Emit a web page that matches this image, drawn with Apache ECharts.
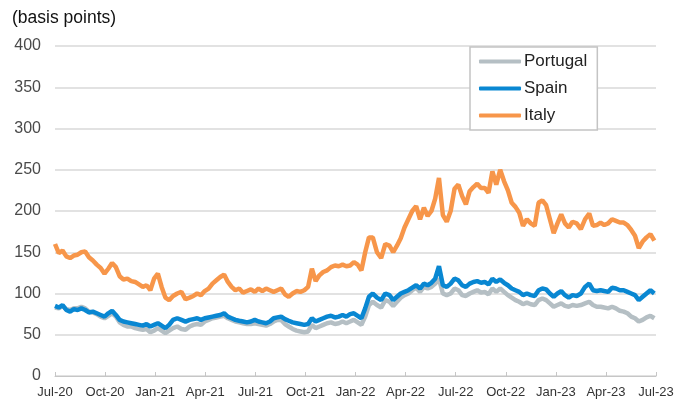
<!DOCTYPE html>
<html>
<head>
<meta charset="utf-8">
<script src="https://cdn.jsdelivr.net/npm/echarts@6/dist/echarts.min.js"></script>
<style>
  html, body { margin: 0; padding: 0; background: #fff; }
  #chart { width: 684px; height: 403px; }
</style>
</head>
<body>
<div id="chart"></div>
<script>
// weekly readings, starting on 1 Jul 2020
const firstWeek = '2020-07-01';
const seriesNames = ['Portugal', 'Spain', 'Italy'];
const monthNames = ['Jan', 'Feb', 'Mar', 'Apr', 'May', 'Jun', 'Jul', 'Aug', 'Sep', 'Oct', 'Nov', 'Dec'];

const italy = [
  160,149,152,145,143,146,147,150,151,144,
  140,135,131,124,130,137,132,121,117,118,
  115,114,111,108,110,104,118,124,108,95,
  92,97,100,102,93,95,97,100,98,103,
  106,112,116,120,123,114,108,104,106,101,
  103,105,102,106,103,106,104,102,104,106,
  99,96,100,103,102,104,108,130,115,122,
  126,128,132,134,133,135,133,134,138,135,
  128,150,168,168,150,143,160,158,150,158,
  167,180,190,200,206,190,204,194,200,215,
  240,195,187,200,227,232,218,208,224,229,
  233,228,228,222,248,232,250,236,225,210,
  205,198,182,190,185,182,210,213,207,190,
  173,185,196,185,180,187,185,178,190,197,
  182,183,186,183,185,190,188,186,186,183,
  177,170,155,163,168,172,164
];

const spain = [
  85,83,86,80,78,81,80,82,80,77,
  78,76,74,72,76,79,74,68,66,65,
  64,63,62,61,63,60,62,64,61,58,
  62,68,70,68,66,68,69,70,68,70,
  71,72,73,74,76,72,70,68,67,66,
  65,66,68,66,65,64,66,70,71,72,
  69,67,65,64,63,62,63,70,66,68,
  70,72,73,71,72,74,72,75,76,73,
  70,82,96,100,95,92,100,98,92,96,
  100,102,104,107,110,106,112,110,113,118,
  133,110,108,112,118,116,110,108,112,114,
  115,113,114,111,118,114,117,113,110,106,
  104,102,98,100,98,97,104,106,105,100,
  96,100,103,98,95,98,97,100,108,112,
  104,103,104,103,102,107,106,104,104,102,
  100,98,92,96,100,104,100
];

const portugal = [
  83,82,85,81,80,82,82,84,82,78,
  77,75,72,70,73,76,72,65,62,60,
  60,58,57,56,57,53,55,58,55,52,
  55,58,60,57,56,60,62,63,62,66,
  68,70,71,72,73,70,68,66,65,64,
  63,63,64,63,62,61,63,66,68,68,
  63,60,57,55,54,53,54,62,58,60,
  62,64,65,63,64,66,64,66,68,65,
  62,72,86,90,86,83,92,90,85,90,
  95,98,100,104,107,102,108,106,108,112,
  118,100,98,100,106,104,98,97,100,102,
  104,101,102,99,106,102,106,102,98,95,
  92,90,87,89,87,86,92,94,92,88,
  84,86,88,85,84,86,85,86,88,90,
  86,84,84,83,82,84,82,79,78,76,
  72,70,66,68,71,73,70
];

// week dates -> position in months since Jul-20
const weekDates = [];
for (let i = 0; i < italy.length; i++) {
  const d = new Date(firstWeek + 'T00:00:00Z');
  d.setUTCDate(d.getUTCDate() + 7 * i);
  weekDates.push(d);
}
function monthPos(d) {
  const y = d.getUTCFullYear(), m = d.getUTCMonth();
  const days = new Date(Date.UTC(y, m + 1, 0)).getUTCDate();
  return (y - 2020) * 12 + m - 6 + (d.getUTCDate() - 1) / days;
}
const xPos = weekDates.map(monthPos);
const pairs = vals => vals.map((v, i) => [xPos[i], v]);

const colors = ['#B5BFC4', '#0987D2', '#F7964A'];

const chart = echarts.init(document.getElementById('chart'), null, { renderer: 'canvas' });

const option = {
  animation: false,
  backgroundColor: '#fff',
  color: colors,
  graphic: [{
    type: 'text',
    left: 12,
    top: 9,
    style: {
      text: '(basis points)',
      font: '17.5px "Liberation Sans", Arial, sans-serif',
      fill: '#111'
    }
  }],
  grid: { left: 55, right: 28, top: 46, bottom: 27 },
  legend: {
    orient: 'vertical',
    left: 470,
    top: 47,
    width: 129,
    padding: [6, 10, 6, 9],
    icon: 'roundRect',
    itemWidth: 42,
    itemHeight: 4,
    itemGap: 10,
    backgroundColor: '#fff',
    borderColor: '#c4c4c4',
    borderWidth: 1.5,
    data: seriesNames,
    textStyle: {
      fontFamily: '"Liberation Sans", Arial, sans-serif',
      fontSize: 17,
      lineHeight: 17,
      color: '#222',
      padding: [0, 0, 0, -2]
    }
  },
  xAxis: {
    type: 'value',
    min: 0,
    max: 36,
    interval: 3,
    axisLine: { show: true, lineStyle: { color: '#c6c6c6', width: 1 } },
    axisTick: { show: true, inside: true, length: 4, lineStyle: { color: '#c6c6c6' } },
    splitLine: { show: false },
    axisLabel: {
      margin: 10,
      fontFamily: '"Liberation Sans", Arial, sans-serif',
      fontSize: 13,
      color: '#333',
      showMinLabel: true,
      showMaxLabel: true,
      formatter: v => monthNames[(v + 6) % 12] + '-' + (20 + Math.floor((v + 6) / 12))
    }
  },
  yAxis: {
    type: 'value',
    min: 0,
    max: 400,
    interval: 50,
    axisLine: { show: false },
    axisTick: { show: false },
    splitLine: { lineStyle: { color: '#d9d9d9', width: 1.5 } },
    axisLabel: {
      margin: 14,
      fontFamily: '"Liberation Sans", Arial, sans-serif',
      fontSize: 16,
      color: '#4a4a4a'
    }
  },
  series: [
    { name: 'Portugal', type: 'line', symbol: 'none', data: pairs(portugal), lineStyle: { width: 4.5, color: colors[0] } },
    { name: 'Spain', type: 'line', symbol: 'none', data: pairs(spain), lineStyle: { width: 4.5, color: colors[1] } },
    { name: 'Italy', type: 'line', symbol: 'none', data: pairs(italy), lineStyle: { width: 4.5, color: colors[2] } }
  ]
};

chart.setOption(option);
</script>
</body>
</html>
